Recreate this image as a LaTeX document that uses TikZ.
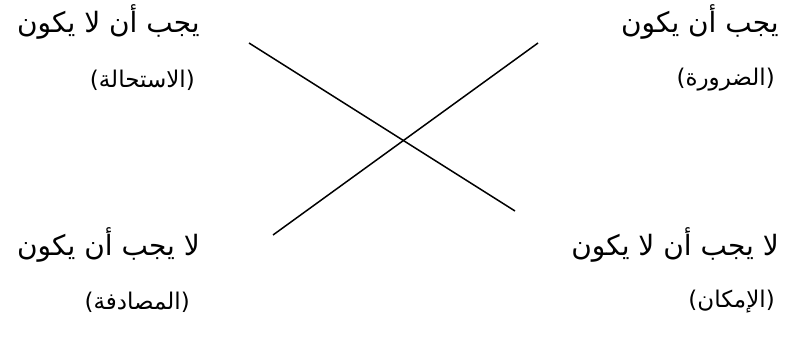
\documentclass[tikz,border=0pt]{standalone}
\usepackage{fontspec}
\newfontfamily\arabicfont[Script=Arabic]{DejaVu Sans}
\TeXXeTstate=1
\begin{document}
\begin{tikzpicture}[x=1pt,y=-1pt,
  lbl/.style={font=\arabicfont\fontsize{28}{32}\selectfont, inner sep=0pt, anchor=east},
  sub/.style={font=\arabicfont\fontsize{23}{27}\selectfont, inner sep=0pt, anchor=east},
  conn/.style={draw=black, line width=1.5pt}]
\useasboundingbox (0,0) rectangle (790,343);
% top-left
\node[lbl] (tl1) at (200,22) {\beginR يجب أن لا يكون\endR};
\node[sub] (tl2) at (195,80) {\beginR (الاستحالة)\endR};
% top-right
\node[lbl] (tr1) at (779,22) {\beginR يجب أن يكون\endR};
\node[sub] (tr2) at (775,80) {\beginR (الضرورة)\endR};
% bottom-left
\node[lbl] (bl1) at (200,245) {\beginR لا يجب أن يكون\endR};
\node[sub] (bl2) at (190,302) {\beginR (المصادفة)\endR};
% bottom-right
\node[lbl] (br1) at (779,245) {\beginR لا يجب أن لا يكون\endR};
\node[sub] (br2) at (775,302) {\beginR (الإمكان)\endR};
% crossing lines
\coordinate (a1) at (249,43);
\coordinate (a2) at (515,211);
\coordinate (b1) at (538,43);
\coordinate (b2) at (273,235);
\draw[conn] (a1) -- (a2);
\draw[conn] (b1) -- (b2);
\end{tikzpicture}
\end{document}
